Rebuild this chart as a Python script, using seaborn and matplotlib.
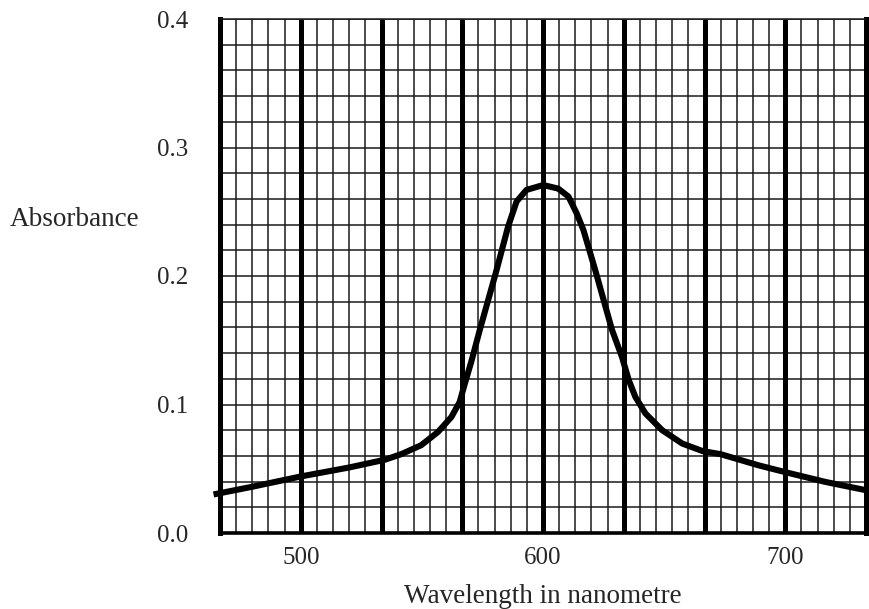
import numpy as np
import pandas as pd
import matplotlib
matplotlib.use("Agg")
import matplotlib.pyplot as plt
import seaborn as sns
from matplotlib.ticker import MultipleLocator

# Absorbance curve
wavelength = [464.0, 480.0, 500.0, 520.0, 534.7, 541.4, 549.7, 556.7, 562.2, 565.6,
              567.7, 570.5, 573.9, 580.6, 585.6, 589.1, 593.2, 600.1, 606.3, 610.5,
              613.9, 616.7, 621.5, 628.5, 632.6, 635.4, 638.1, 642.3, 649.2, 657.5,
              665.8, 673.4, 688.9, 701.4, 716.7, 737.0]
absorbance = [0.030, 0.036, 0.044, 0.051, 0.057, 0.0613, 0.0683, 0.0787, 0.0903, 0.102,
              0.116, 0.134, 0.158, 0.203, 0.2385, 0.258, 0.267, 0.2708, 0.268, 0.2618,
              0.2488, 0.2357, 0.205, 0.158, 0.137, 0.119, 0.106, 0.093, 0.080, 0.0696,
              0.0638, 0.0613, 0.0527, 0.0467, 0.0397, 0.0319]

x_ticks = [500, 600, 700]
y_ticks = [0.0, 0.1, 0.2, 0.3, 0.4]
y_ticklabels = ["0.0", "0.1", "0.2", "0.3", "0.4"]

df = pd.DataFrame({"wavelength": wavelength, "absorbance": absorbance})

sns.set_style("white")
plt.rcParams["font.family"] = ["Liberation Serif", "DejaVu Serif"]

x_min, x_max = 1400 / 3, 2200 / 3
fig = plt.figure(figsize=(8.7, 6.09), dpi=100)
ax = fig.add_axes([220 / 870, 1 - 533 / 609, 646 / 870, 514 / 609])

# fine grid
ax.xaxis.set_minor_locator(MultipleLocator(20 / 3))
ax.yaxis.set_minor_locator(MultipleLocator(0.02))
ax.grid(which="minor", color="#1a1a1a", linewidth=1.1)
ax.grid(which="major", axis="y", color="#1a1a1a", linewidth=1.1)
ax.tick_params(which="minor", length=0)

# heavy vertical lines every 100/3 nm
heavy = np.arange(x_min + 100 / 3, x_max - 1, 100 / 3)
ax.vlines(heavy, 0, 0.4, color="black", linewidth=3.6, zorder=2)

sns.lineplot(data=df, x="wavelength", y="absorbance", ax=ax, color="black",
             linewidth=4.4, sort=False, zorder=5, clip_on=False,
             solid_joinstyle="round", solid_capstyle="butt")

ax.set_xlim(x_min, x_max)
ax.set_ylim(0, 0.4)
ax.set_xticks(x_ticks)
ax.set_yticks(y_ticks)
ax.set_yticklabels(y_ticklabels)
ax.tick_params(axis="x", which="major", direction="out", length=6, width=1,
               labelsize=18, pad=4, color="black")
ax.tick_params(axis="y", which="major", direction="out", length=12, width=1,
               labelsize=18, pad=11, color="black")

for side in ["left", "right"]:
    ax.spines[side].set_linewidth(3.6)
    ax.spines[side].set_color("black")
ax.spines["bottom"].set_linewidth(2.6)
ax.spines["bottom"].set_color("black")
ax.spines["top"].set_linewidth(1.1)
ax.spines["top"].set_color("#1a1a1a")

ax.set_xlabel("Wavelength in nanometre", fontsize=19.5, labelpad=11)
ax.set_ylabel("Absorbance", fontsize=19.5, rotation=0, ha="left", va="center")
ax.yaxis.set_label_coords(-0.325, 0.609)

fig.savefig("out.png", dpi=100)
